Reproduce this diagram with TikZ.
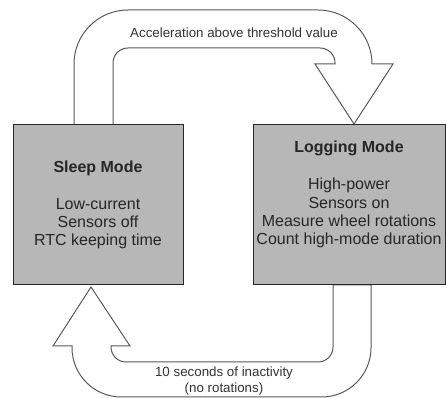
\documentclass[tikz,border=0pt]{standalone}
\usepackage{fontspec}
\setmainfont{Liberation Sans}
\usetikzlibrary{positioning}

\definecolor{boxgray}{HTML}{B7B7B7}
\definecolor{edgegray}{HTML}{595959}

\tikzset{
  modebox/.style={draw=black!85,fill=boxgray,line width=0.75pt,align=center,
    minimum height=120pt,inner sep=0pt,text=black!85,
    font=\fontsize{12}{13.8}\selectfont},
  bigarrow/.style={draw=edgegray,fill=white,line width=0.75pt},
  arrowlabel/.style={align=center,text=black!80,font=\fontsize{10}{11.5}\selectfont}
}

\begin{document}
\begin{tikzpicture}[x=0.75pt,y=-0.75pt]
  \useasboundingbox (0,0) rectangle (446,398);
  % arrow: sleep -> logging
  \draw[bigarrow] (74,125) [rounded corners=40.5pt] -- (74,10) -- (372,10)
    [sharp corners] -- (372,64) -- (393,64) -- (354,124) -- (315,64) -- (335,64)
    [rounded corners=11.25pt] -- (335,48) -- (113,48)
    [sharp corners] -- (113,125) -- cycle;
  % arrow: logging -> sleep
  \draw[bigarrow] (371,285) [rounded corners=37pt] -- (371,397) -- (72,397)
    [sharp corners] -- (72,346) -- (53,346) -- (91,287) -- (130,346) -- (111,346)
    [rounded corners=11.25pt] -- (111,362) -- (333,362)
    [sharp corners] -- (333,285) -- cycle;
  \node[arrowlabel] (accel) at (234,33) {Acceleration above threshold value};
  \node[arrowlabel] (inact) at (224,381) {10 seconds of inactivity\\(no rotations)};
  % the two modes
  \node[modebox,minimum width=127.5pt] (sleep) at (98,205)
    {\textbf{Sleep Mode}\\[13.8pt] Low-current\\ Sensors off\\ RTC keeping time};
  \node[modebox,minimum width=144pt] (logging) at (349,205)
    {\textbf{Logging Mode}\\[13.8pt] High-power\\ Sensors on\\ Measure wheel rotations\\
     Count high-mode duration\\ \strut};
\end{tikzpicture}
\end{document}
